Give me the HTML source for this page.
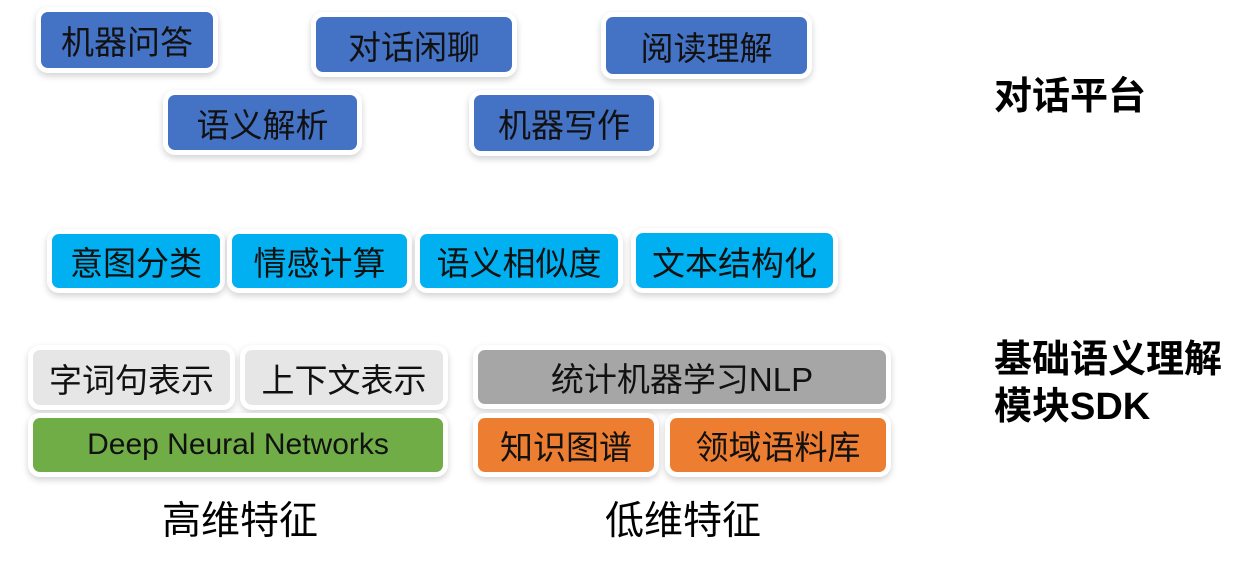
<!DOCTYPE html>
<html><head><meta charset="utf-8"><style>
body{margin:0;width:1245px;height:562px;background:#fff;position:relative;overflow:hidden;font-family:"Liberation Sans","Noto Sans CJK SC",sans-serif}
.b{position:absolute;box-sizing:border-box;border-radius:7px;display:flex;align-items:center;justify-content:center;color:#111;font-size:33px;box-shadow:0 0 0 5px #fff,0 3px 7px 5px rgba(0,0,0,0.18)}
.bl{background:#4472c4}.cy{background:#00b0f0}.lg{background:#e7e6e6}.gr{background:#a6a6a6}.gn{background:#70ad47}.or{background:#ed7d31}
.t{position:absolute;font-size:39px;color:#000;white-space:nowrap}
.h{position:absolute;font-weight:bold;font-size:38px;color:#000;white-space:nowrap;line-height:47px}
</style></head><body>
<div class="b bl" style="left:41px;top:12px;width:172px;height:56px">机器问答</div>
<div class="b bl" style="left:316px;top:17px;width:196px;height:55px">对话闲聊</div>
<div class="b bl" style="left:606px;top:17px;width:201px;height:57px">阅读理解</div>
<div class="b bl" style="left:168px;top:95px;width:189px;height:55px">语义解析</div>
<div class="b bl" style="left:474px;top:95px;width:180px;height:56px">机器写作</div>

<div class="b cy" style="left:52px;top:234px;width:168px;height:54px">意图分类</div>
<div class="b cy" style="left:232px;top:234px;width:175px;height:54px">情感计算</div>
<div class="b cy" style="left:420px;top:234px;width:198px;height:54px">语义相似度</div>
<div class="b cy" style="left:636px;top:233px;width:197px;height:55px">文本结构化</div>

<div class="b lg" style="left:33px;top:350px;width:197px;height:55px">字词句表示</div>
<div class="b lg" style="left:245px;top:350px;width:198px;height:55px">上下文表示</div>
<div class="b gn" style="left:33px;top:418px;width:410px;height:54px;font-size:30px">Deep Neural Networks</div>
<div class="b gr" style="left:478px;top:350px;width:408px;height:54px">统计机器学习NLP</div>
<div class="b or" style="left:478px;top:418px;width:176px;height:54px">知识图谱</div>
<div class="b or" style="left:670px;top:418px;width:216px;height:54px">领域语料库</div>

<div class="t" style="left:162px;top:490px">高维特征</div>
<div class="t" style="left:605px;top:490px">低维特征</div>

<div class="h" style="left:994px;top:74px">对话平台</div>
<div class="h" style="left:994px;top:337px">基础语义理解<br>模块SDK</div>
</body></html>
